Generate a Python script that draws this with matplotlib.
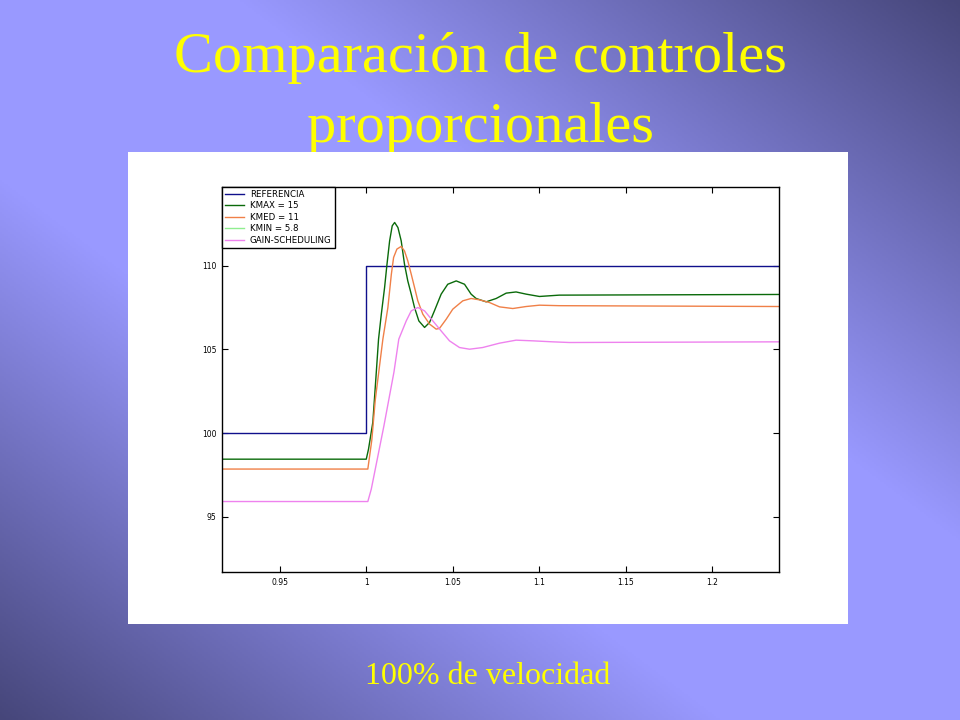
import numpy as np
import matplotlib
matplotlib.use("Agg")
import matplotlib.pyplot as plt

# Datos
x_min, x_max = 0.9167, 1.2387
y_min, y_max = 91.7, 114.7

ref_t = [x_min, 1.0, 1.0, x_max]
ref_v = [100.0, 100.0, 110.0, 110.0]

kmax_t = [x_min, 1.0001, 1.0014, 1.0039, 1.0059, 1.0072, 1.0088, 1.0107, 1.0120,
          1.0136, 1.0151, 1.0165, 1.0184, 1.0203, 1.0222, 1.0241, 1.0261, 1.0280,
          1.0305, 1.0338, 1.0367, 1.0395, 1.0434, 1.0472, 1.0521, 1.0569, 1.0607,
          1.0636, 1.0694, 1.0752, 1.0810, 1.0867, 1.0925, 1.1002, 1.1117, x_max]
kmax_v = [98.44, 98.44, 99.04, 100.65, 103.64, 105.61, 107.10, 108.70, 110.01,
          111.48, 112.38, 112.58, 112.28, 111.48, 110.09, 109.09, 108.30, 107.50,
          106.70, 106.31, 106.61, 107.30, 108.30, 108.89, 109.09, 108.89, 108.30,
          108.04, 107.84, 108.04, 108.36, 108.43, 108.30, 108.16, 108.24, 108.28]

kmed_t = [x_min, 1.0010, 1.0033, 1.0053, 1.0097, 1.0126, 1.0146, 1.0159, 1.0178,
          1.0203, 1.0222, 1.0241, 1.0261, 1.0280, 1.0299, 1.0328, 1.0367, 1.0405,
          1.0424, 1.0463, 1.0501, 1.0559, 1.0607, 1.0655, 1.0713, 1.0771, 1.0848,
          1.0925, 1.1002, 1.1117, x_max]
kmed_v = [97.85, 97.85, 99.58, 101.97, 105.61, 107.50, 109.49, 110.49, 110.99,
          111.15, 110.88, 110.29, 109.49, 108.70, 107.90, 107.10, 106.51, 106.21,
          106.25, 106.80, 107.40, 107.90, 108.04, 107.96, 107.80, 107.54, 107.44,
          107.56, 107.64, 107.61, 107.56]

kmin_t = []
kmin_v = []

gain_t = [x_min, 1.0010, 1.0030, 1.0103, 1.0161, 1.0189, 1.0232, 1.0261, 1.0299,
          1.0338, 1.0386, 1.0434, 1.0482, 1.0540, 1.0598, 1.0674, 1.0771, 1.0867,
          1.0963, 1.1079, 1.1175, x_max]
gain_v = [95.91, 95.91, 96.65, 100.43, 103.64, 105.61, 106.70, 107.30, 107.50,
          107.30, 106.70, 106.10, 105.51, 105.11, 105.01, 105.11, 105.37, 105.55,
          105.51, 105.45, 105.41, 105.45]

x_ticks = [0.95, 1.0, 1.05, 1.1, 1.15, 1.2]
x_labels = ["0.95", "1", "1.05", "1.1", "1.15", "1.2"]
y_ticks = [95, 100, 105, 110]

fig = plt.figure(figsize=(9.6, 7.2), dpi=100)

# Fondo degradado de la diapositiva
bg = fig.add_axes([0, 0, 1, 1], zorder=0)
u, v = np.meshgrid(np.linspace(0, 1, 480), np.linspace(0, 1, 360))
d = np.clip((np.abs(u - v) - 0.25) / 0.75, 0, 1)
light = np.array([153, 153, 255]) / 255
dark = np.array([70, 70, 122]) / 255
img = light[None, None, :] * (1 - d[..., None]) + dark[None, None, :] * d[..., None]
bg.imshow(img, aspect="auto", extent=[0, 1, 0, 1], origin="upper")
bg.set_axis_off()

# Titulo (detras del panel blanco)
fig.text(0.5, 1 - 72 / 720, "Comparación de controles", ha="center", va="baseline",
         fontsize=42, color="#ffff00", family="Liberation Serif", zorder=1)
fig.text(0.501, 1 - 142 / 720, "proporcionales", ha="center", va="baseline",
         fontsize=42, color="#ffff00", family="Liberation Serif", zorder=1)

# Panel blanco
panel = fig.add_axes([128 / 960, 1 - 624 / 720, 720 / 960, 472 / 720], zorder=2)
panel.set_facecolor("white")
panel.set_xticks([])
panel.set_yticks([])
for s in panel.spines.values():
    s.set_visible(False)

ax = fig.add_axes([222 / 960, 1 - 572 / 720, 557 / 960, 385 / 720], zorder=3)
ax.plot(ref_t, ref_v, color="#10108c", lw=1, label="REFERENCIA")
ax.plot(kmax_t, kmax_v, color="#0a6a0a", lw=1, label="KMAX = 15")
ax.plot(kmed_t, kmed_v, color="#f08048", lw=1, label="KMED = 11")
ax.plot(kmin_t, kmin_v, color="#90ee90", lw=1, label="KMIN = 5.8")
ax.plot(gain_t, gain_v, color="#ee82ee", lw=1, label="GAIN-SCHEDULING")

ax.set_xlim(x_min, x_max)
ax.set_ylim(y_min, y_max)
ax.set_xticks(x_ticks)
ax.set_xticklabels(x_labels)
ax.set_yticks(y_ticks)
ax.tick_params(direction="in", top=True, right=True, length=4, width=0.8,
               labelsize=5.5, pad=4)
for s in ax.spines.values():
    s.set_linewidth(1)

leg = ax.legend(loc="upper left", borderaxespad=0, fontsize=6.2, handlelength=2.2,
                handletextpad=0.7, labelspacing=0.28, fancybox=False, framealpha=1,
                edgecolor="black", borderpad=0.35)
leg.get_frame().set_linewidth(1)

fig.text(488 / 960, 1 - 684 / 720, "100% de velocidad", ha="center", va="baseline",
         fontsize=23, color="#ffff00", family="Liberation Serif")

plt.savefig("out.png", dpi=100)
